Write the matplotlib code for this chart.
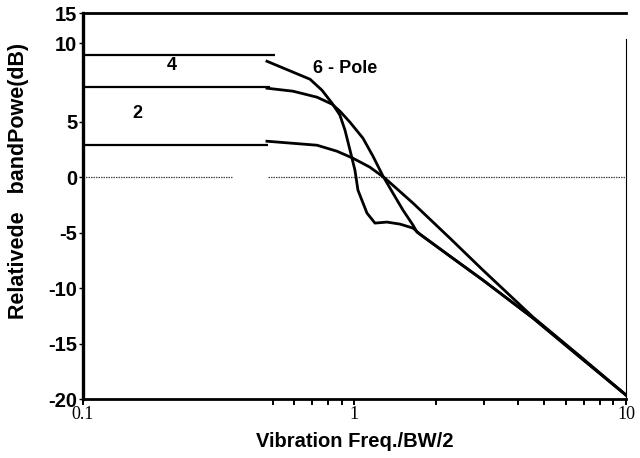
import numpy as np
import matplotlib
matplotlib.use('Agg')
import matplotlib.pyplot as plt
from matplotlib.ticker import FixedLocator, NullFormatter

# curves (x = freq / (BW/2), y = relative band power in dB)
pole2_x = [0.476, 0.728, 0.862, 0.987, 1.14, 1.295, 1.643, 2.247, 2.973, 4.544, 6.77, 10.0]
pole2_y = [3.24, 2.88, 2.34, 1.71, 0.90, -0.09, -2.34, -5.50, -8.38, -12.61, -16.13, -19.64]

pole4_x = [0.476, 0.594, 0.728, 0.827, 0.884, 0.963, 1.075, 1.17, 1.274, 1.386, 1.509,
           1.643, 1.699, 2.247, 2.973, 4.544, 6.77, 10.0]
pole4_y = [8.02, 7.75, 7.21, 6.58, 5.95, 4.95, 3.51, 1.89, 0.09, -1.44, -2.97,
           -4.32, -4.95, -7.12, -9.28, -12.70, -16.22, -19.64]

pole6_x = [0.476, 0.686, 0.759, 0.827, 0.884, 0.923, 0.963, 1.004, 1.03, 1.112, 1.19,
           1.317, 1.471, 1.643, 1.743, 2.247, 2.973, 4.544, 6.77, 10.0]
pole6_y = [10.45, 8.83, 7.84, 6.67, 5.59, 4.23, 2.43, 0.63, -1.17, -3.24, -4.14,
           -4.05, -4.23, -4.59, -5.14, -7.12, -9.28, -12.70, -16.22, -19.64]

# flat reference levels drawn from the left axis
ref_levels = [10.99, 8.11, 2.88]
ref_ends = [0.51, 0.49, 0.48]

# zero line (drawn with a gap)
zero_segs = [(0.1, 0.354), (0.48, 10.0)]

# tick values / labels as printed (the scan's 10 and 15 sit off-scale)
ytick_pos = [-20, -15, -10, -5, 0, 5, 12.07, 14.8]
ytick_lab = ['-20', '-15', '-10', '-5', '0', '5', '10', '15']
xtick_pos = [0.1, 1, 10]
xtick_lab = ['0.1', '1', '10']
xminor_pos = [0.5, 0.6, 0.7, 0.8, 0.9, 2, 3, 4, 5, 6, 7, 8, 9]

sans = 'Liberation Sans'
serif = 'Liberation Serif'

fig = plt.figure(figsize=(6.4, 4.58), dpi=100)
ax = fig.add_axes([0.1297, 0.1288, 0.978 - 0.1297, 0.9716 - 0.1288])

ax.set_xscale('log')
ax.set_xlim(0.1, 10)
ax.set_ylim(-20, 14.8)

for lev, xe in zip(ref_levels, ref_ends):
    ax.plot([0.1, xe], [lev, lev], color='black', lw=1.6, solid_capstyle='butt')

for x0, x1 in zero_segs:
    ax.plot([x0, x1], [0, 0], color='#444444', lw=0.9, ls=(0, (1.2, 0.8)))

for xs, ys in [(pole2_x, pole2_y), (pole4_x, pole4_y), (pole6_x, pole6_y)]:
    ax.plot(xs, ys, color='black', lw=2.0, solid_joinstyle='round')

ax.text(0.213, 10.1, '4', fontsize=13, fontweight='heavy', family=sans, ha='center', va='center')
ax.text(0.159, 5.77, '2', fontsize=13, fontweight='heavy', family=sans, ha='center', va='center')
ax.text(0.703, 9.8, '6 - Pole', fontsize=13, fontweight='heavy', family=sans, ha='left', va='center')

# spines: heavy left/top/bottom, thin right that stops short of the top
ax.spines['left'].set_linewidth(2.4)
ax.spines['bottom'].set_linewidth(2.0)
ax.spines['top'].set_linewidth(2.0)
ax.spines['right'].set_linewidth(0.8)
ax.spines['right'].set_bounds(-20, 12.5)

ax.yaxis.set_major_locator(FixedLocator(ytick_pos))
ax.set_yticklabels(ytick_lab, fontsize=14.5, fontweight='heavy', family=sans)
ax.tick_params(axis='y', which='major', direction='out', length=3, width=1, pad=1)

ax.xaxis.set_major_locator(FixedLocator(xtick_pos))
ax.xaxis.set_minor_locator(FixedLocator(xminor_pos))
ax.xaxis.set_minor_formatter(NullFormatter())
ax.set_xticklabels(xtick_lab, fontsize=13, family=serif)
ax.tick_params(axis='x', which='both', direction='out', length=4, width=1.4, pad=1)

ax.set_xlabel('Vibration Freq./BW/2', fontsize=14.5, fontweight='heavy', family=sans)
ax.xaxis.set_label_coords(0.5, -0.085)
ax.set_ylabel('Relativede   bandPowe(dB)', fontsize=15.5, fontweight='heavy', family=sans)
ax.yaxis.set_label_coords(-0.10, 0.565)

plt.savefig('out.png', dpi=100)
